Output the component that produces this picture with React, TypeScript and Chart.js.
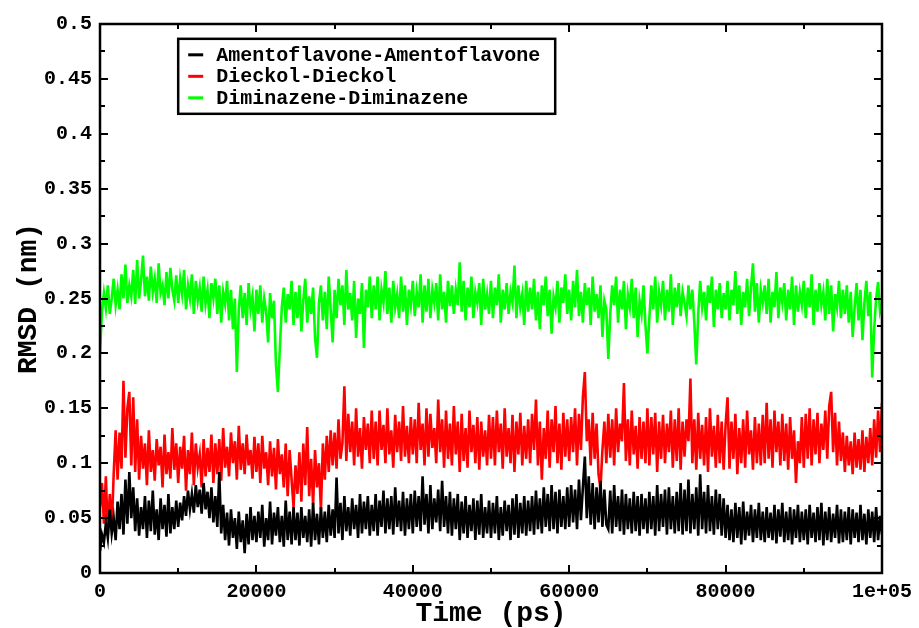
import React, { useEffect, useRef } from "react";
import { Chart, registerables } from "chart.js";

Chart.register(...registerables);

// Sampling interval of the series (ps)
const TIME_STEP = 250;

const SERIES_LABELS = [
  "Amentoflavone-Amentoflavone",
  "Dieckol-Dieckol",
  "Diminazene-Diminazene",
];
const SERIES_COLORS = ["#000000", "#ff0000", "#00ff00"];

const X_TICKS = [0, 20000, 40000, 60000, 80000, 100000];
const X_TICK_LABELS = ["0", "20000", "40000", "60000", "80000", "1e+05"];
const Y_TICK_LABELS = ["0", "0.05", "0.1", "0.15", "0.2", "0.25", "0.3", "0.35", "0.4", "0.45", "0.5"];

// RMSD (nm) values, one every 250 ps
const amentoflavone = [
  0.020,0.035,0.028,0.045,0.032,0.058,0.036,0.050,0.030,0.065,0.040,0.072,0.035,0.085,0.045,0.092,0.050,0.078,0.038,0.068,
  0.034,0.060,0.040,0.070,0.032,0.066,0.038,0.075,0.035,0.058,0.030,0.068,0.040,0.062,0.033,0.072,0.036,0.060,0.040,0.066,
  0.042,0.064,0.048,0.070,0.052,0.075,0.058,0.072,0.055,0.080,0.060,0.076,0.054,0.082,0.058,0.074,0.050,0.078,0.046,0.070,
  0.042,0.092,0.036,0.062,0.030,0.055,0.025,0.058,0.032,0.050,0.022,0.056,0.028,0.048,0.018,0.054,0.026,0.060,0.030,0.052,
  0.028,0.056,0.032,0.062,0.024,0.050,0.030,0.065,0.026,0.055,0.034,0.060,0.028,0.052,0.024,0.066,0.030,0.056,0.026,0.060,
  0.030,0.055,0.025,0.060,0.032,0.052,0.028,0.058,0.024,0.064,0.030,0.054,0.026,0.060,0.032,0.056,0.028,0.062,0.034,0.058,
  0.032,0.087,0.036,0.064,0.030,0.070,0.038,0.060,0.034,0.068,0.040,0.062,0.032,0.072,0.036,0.065,0.040,0.070,0.034,0.062,
  0.038,0.072,0.034,0.066,0.042,0.075,0.036,0.068,0.040,0.070,0.035,0.078,0.042,0.066,0.038,0.074,0.034,0.068,0.040,0.072,
  0.036,0.075,0.042,0.070,0.038,0.088,0.044,0.072,0.036,0.080,0.040,0.068,0.046,0.076,0.038,0.084,0.042,0.070,0.036,0.074,
  0.034,0.068,0.040,0.072,0.030,0.065,0.036,0.070,0.032,0.062,0.038,0.068,0.030,0.066,0.035,0.072,0.032,0.060,0.036,0.066,
  0.032,0.064,0.036,0.070,0.030,0.060,0.034,0.066,0.038,0.062,0.030,0.068,0.035,0.072,0.032,0.064,0.036,0.070,0.034,0.066,
  0.038,0.070,0.035,0.075,0.040,0.068,0.036,0.078,0.042,0.072,0.038,0.080,0.040,0.074,0.036,0.076,0.042,0.070,0.040,0.078,
  0.042,0.080,0.046,0.076,0.040,0.085,0.048,0.078,0.106,0.050,0.088,0.044,0.082,0.040,0.078,0.046,0.084,0.042,0.076,0.044,
  0.040,0.075,0.036,0.080,0.042,0.070,0.038,0.076,0.035,0.072,0.040,0.068,0.036,0.074,0.038,0.070,0.034,0.072,0.040,0.068,
  0.036,0.074,0.040,0.070,0.034,0.080,0.038,0.072,0.042,0.076,0.035,0.078,0.040,0.070,0.036,0.074,0.038,0.082,0.035,0.076,
  0.038,0.085,0.036,0.072,0.040,0.078,0.034,0.090,0.040,0.074,0.036,0.080,0.038,0.070,0.035,0.076,0.040,0.072,0.034,0.068,
  0.032,0.062,0.030,0.058,0.028,0.064,0.032,0.060,0.026,0.065,0.030,0.056,0.034,0.062,0.028,0.058,0.032,0.064,0.030,0.056,
  0.028,0.060,0.032,0.055,0.030,0.062,0.027,0.058,0.033,0.064,0.028,0.056,0.030,0.060,0.026,0.058,0.032,0.062,0.028,0.056,
  0.030,0.058,0.026,0.062,0.032,0.055,0.028,0.060,0.030,0.064,0.025,0.056,0.030,0.060,0.028,0.054,0.032,0.062,0.027,0.058,
  0.028,0.056,0.030,0.060,0.026,0.058,0.032,0.055,0.028,0.062,0.030,0.054,0.026,0.058,0.032,0.056,0.028,0.060,0.030,0.052,
  0.035,
];

const dieckol = [
  0.060,0.082,0.045,0.088,0.035,0.072,0.040,0.090,0.130,0.085,0.128,0.095,0.175,0.105,0.150,0.165,0.098,0.160,0.092,0.140,
  0.085,0.125,0.095,0.118,0.080,0.130,0.092,0.112,0.084,0.122,0.098,0.115,0.078,0.126,0.090,0.110,0.086,0.132,0.094,0.118,
  0.082,0.115,0.095,0.125,0.075,0.112,0.090,0.128,0.080,0.118,0.096,0.108,0.078,0.122,0.088,0.114,0.092,0.126,0.082,0.118,
  0.090,0.122,0.084,0.132,0.096,0.115,0.088,0.128,0.100,0.120,0.085,0.134,0.094,0.118,0.090,0.126,0.098,0.112,0.086,0.124,
  0.092,0.118,0.082,0.125,0.095,0.110,0.080,0.120,0.088,0.114,0.076,0.122,0.090,0.108,0.078,0.118,0.070,0.112,0.085,0.060,
  0.098,0.072,0.110,0.065,0.118,0.080,0.133,0.070,0.104,0.062,0.112,0.078,0.100,0.057,0.118,0.085,0.125,0.092,0.130,0.098,
  0.128,0.095,0.140,0.104,0.118,0.170,0.102,0.145,0.110,0.138,0.098,0.150,0.106,0.132,0.095,0.142,0.112,0.136,0.100,0.148,
  0.104,0.138,0.098,0.148,0.112,0.135,0.100,0.150,0.108,0.130,0.096,0.144,0.110,0.138,0.102,0.152,0.106,0.134,0.100,0.142,
  0.108,0.140,0.100,0.155,0.112,0.136,0.098,0.150,0.106,0.145,0.114,0.132,0.100,0.158,0.110,0.140,0.096,0.148,0.104,0.136,
  0.098,0.152,0.108,0.138,0.092,0.145,0.102,0.132,0.096,0.148,0.110,0.135,0.100,0.142,0.094,0.138,0.106,0.130,0.098,0.144,
  0.104,0.142,0.098,0.148,0.110,0.136,0.095,0.150,0.106,0.132,0.100,0.144,0.092,0.138,0.108,0.146,0.098,0.134,0.104,0.140,
  0.100,0.145,0.112,0.158,0.098,0.138,0.085,0.132,0.104,0.148,0.096,0.140,0.110,0.152,0.100,0.136,0.094,0.146,0.106,0.140,
  0.102,0.142,0.110,0.150,0.098,0.145,0.112,0.160,0.183,0.120,0.140,0.098,0.146,0.104,0.136,0.090,0.077,0.112,0.138,0.100,
  0.145,0.105,0.140,0.098,0.150,0.110,0.136,0.120,0.173,0.102,0.140,0.098,0.148,0.108,0.134,0.095,0.142,0.104,0.138,0.100,
  0.150,0.098,0.142,0.108,0.146,0.092,0.138,0.104,0.144,0.100,0.136,0.110,0.148,0.096,0.140,0.102,0.150,0.094,0.138,0.106,
  0.140,0.120,0.177,0.100,0.140,0.094,0.146,0.104,0.135,0.098,0.142,0.092,0.150,0.106,0.134,0.096,0.144,0.100,0.138,0.094,
  0.135,0.160,0.095,0.138,0.104,0.145,0.090,0.132,0.100,0.140,0.096,0.148,0.108,0.130,0.094,0.142,0.100,0.136,0.098,0.144,
  0.100,0.155,0.104,0.140,0.096,0.148,0.110,0.138,0.098,0.145,0.102,0.136,0.094,0.142,0.104,0.130,0.082,0.120,0.100,0.142,
  0.096,0.145,0.104,0.150,0.098,0.140,0.108,0.146,0.100,0.136,0.112,0.148,0.104,0.152,0.165,0.110,0.146,0.098,0.138,0.102,
  0.128,0.092,0.125,0.098,0.120,0.090,0.128,0.096,0.122,0.094,0.130,0.092,0.124,0.100,0.132,0.098,0.140,0.105,0.148,0.110,
  0.155,
];

const diminazene = [
  0.200,0.238,0.255,0.241,0.262,0.236,0.250,0.268,0.244,0.258,0.240,0.272,0.250,0.281,0.246,0.262,0.252,0.276,0.245,0.285,
  0.250,0.266,0.289,0.252,0.270,0.248,0.279,0.256,0.268,0.246,0.282,0.255,0.262,0.244,0.274,0.250,0.278,0.258,0.248,0.271,
  0.246,0.268,0.254,0.276,0.240,0.262,0.250,0.272,0.236,0.266,0.248,0.260,0.238,0.270,0.245,0.258,0.232,0.264,0.250,0.268,
  0.236,0.262,0.228,0.256,0.245,0.266,0.230,0.258,0.222,0.250,0.183,0.240,0.262,0.232,0.255,0.226,0.264,0.240,0.252,0.220,
  0.258,0.236,0.262,0.228,0.250,0.238,0.210,0.255,0.232,0.248,0.190,0.165,0.205,0.242,0.260,0.228,0.254,0.240,0.266,0.226,
  0.256,0.232,0.262,0.220,0.248,0.268,0.228,0.252,0.236,0.260,0.214,0.196,0.246,0.262,0.230,0.256,0.222,0.270,0.240,0.210,
  0.258,0.232,0.268,0.244,0.262,0.226,0.276,0.240,0.255,0.230,0.266,0.214,0.250,0.236,0.264,0.205,0.258,0.242,0.270,0.232,
  0.262,0.240,0.270,0.230,0.258,0.246,0.275,0.236,0.260,0.228,0.266,0.242,0.254,0.232,0.270,0.238,0.262,0.226,0.258,0.244,
  0.266,0.234,0.256,0.242,0.272,0.228,0.262,0.238,0.268,0.232,0.258,0.246,0.264,0.230,0.272,0.240,0.256,0.228,0.266,0.243,
  0.262,0.236,0.258,0.244,0.283,0.238,0.266,0.230,0.260,0.242,0.270,0.232,0.256,0.246,0.264,0.226,0.268,0.240,0.254,0.236,
  0.266,0.232,0.260,0.244,0.272,0.228,0.258,0.240,0.264,0.236,0.256,0.246,0.280,0.232,0.262,0.242,0.254,0.226,0.266,0.238,
  0.260,0.240,0.268,0.230,0.256,0.222,0.262,0.244,0.270,0.234,0.258,0.218,0.252,0.242,0.266,0.228,0.260,0.246,0.272,0.236,
  0.258,0.230,0.266,0.242,0.276,0.234,0.256,0.228,0.264,0.244,0.260,0.226,0.270,0.238,0.254,0.232,0.262,0.215,0.248,0.240,
  0.195,0.236,0.262,0.244,0.270,0.228,0.258,0.240,0.266,0.222,0.254,0.242,0.268,0.232,0.260,0.215,0.248,0.236,0.262,0.226,
  0.200,0.232,0.262,0.240,0.270,0.228,0.256,0.244,0.266,0.230,0.258,0.238,0.272,0.226,0.260,0.242,0.264,0.234,0.256,0.246,
  0.234,0.262,0.240,0.258,0.228,0.190,0.236,0.266,0.242,0.256,0.230,0.262,0.246,0.270,0.224,0.258,0.240,0.264,0.232,0.255,
  0.240,0.266,0.230,0.258,0.244,0.275,0.236,0.262,0.226,0.256,0.242,0.268,0.234,0.260,0.282,0.238,0.264,0.228,0.258,0.246,
  0.262,0.236,0.268,0.228,0.256,0.242,0.274,0.232,0.260,0.246,0.264,0.230,0.258,0.240,0.270,0.226,0.262,0.238,0.256,0.244,
  0.266,0.232,0.260,0.242,0.272,0.226,0.258,0.238,0.264,0.244,0.256,0.230,0.268,0.236,0.262,0.220,0.254,0.242,0.266,0.232,
  0.258,0.236,0.262,0.228,0.256,0.215,0.242,0.264,0.230,0.258,0.212,0.246,0.266,0.234,0.256,0.178,0.222,0.250,0.265,0.238,
  0.245,
];

const SERIES = [amentoflavone, dieckol, diminazene];

const MONO = "'Liberation Mono', 'DejaVu Sans Mono', monospace";

const framePlugin = {
  id: "graceFrame",
  afterDatasetsDraw(chart: any) {
    const { ctx, chartArea } = chart;
    const { left, right, top, bottom } = chartArea;
    const xs = chart.scales.x;
    const ys = chart.scales.y;
    ctx.save();
    ctx.strokeStyle = "#000";
    // ticks (inward, all four sides)
    ctx.lineWidth = 2;
    ctx.beginPath();
    for (let v = 0; v <= 100000; v += 10000) {
      const px = Math.round(xs.getPixelForValue(v));
      const len = v % 20000 === 0 ? 8 : 5;
      ctx.moveTo(px, bottom);
      ctx.lineTo(px, bottom - len);
      ctx.moveTo(px, top);
      ctx.lineTo(px, top + len);
    }
    for (let i = 0; i <= 20; i++) {
      const v = i * 0.025;
      const py = Math.round(ys.getPixelForValue(v));
      const len = i % 2 === 0 ? 8 : 5;
      ctx.moveTo(left, py);
      ctx.lineTo(left + len, py);
      ctx.moveTo(right, py);
      ctx.lineTo(right - len, py);
    }
    ctx.stroke();
    // frame
    ctx.lineWidth = 2.5;
    ctx.strokeRect(left, top, right - left, bottom - top);

    // legend box
    const bx = xs.getPixelForValue(10000);
    const by = ys.getPixelForValue(0.4865);
    const bw = 377;
    const bh = 75;
    ctx.fillStyle = "#fff";
    ctx.fillRect(bx, by, bw, bh);
    ctx.lineWidth = 2.5;
    ctx.strokeRect(bx, by, bw, bh);
    ctx.font = `bold 20px ${MONO}`;
    ctx.textBaseline = "middle";
    ctx.textAlign = "left";
    SERIES_LABELS.forEach((lab, i) => {
      const cy = by + 16 + i * 21.5;
      ctx.strokeStyle = SERIES_COLORS[i];
      ctx.lineWidth = 3;
      ctx.beginPath();
      ctx.moveTo(bx + 10, cy);
      ctx.lineTo(bx + 25, cy);
      ctx.stroke();
      ctx.fillStyle = "#000";
      ctx.fillText(lab, bx + 38, cy + 1);
    });
    ctx.restore();
  },
};

export default function App() {
  const canvasRef = useRef<HTMLCanvasElement | null>(null);

  useEffect(() => {
    document.body.style.margin = "0";
    const canvas = canvasRef.current;
    if (!canvas) return;

    const datasets = SERIES.map((vals, i) => ({
      label: SERIES_LABELS[i],
      data: vals.map((v, k) => ({ x: k * TIME_STEP, y: v })),
      borderColor: SERIES_COLORS[i],
      backgroundColor: SERIES_COLORS[i],
      borderWidth: 2.6,
      pointRadius: 0,
      tension: 0,
      fill: false,
    }));

    const chart = new Chart(canvas, {
      type: "line",
      data: { datasets },
      options: {
        animation: false,
        responsive: false,
        maintainAspectRatio: false,
        layout: { padding: { left: 0, top: 24, right: 37, bottom: 0 } },
        plugins: {
          legend: { display: false },
          tooltip: { enabled: false },
        },
        scales: {
          x: {
            type: "linear",
            min: 0,
            max: 100000,
            afterFit(scale: any) {
              scale.height = 55;
            },
            afterBuildTicks(scale: any) {
              scale.ticks = X_TICKS.map((v) => ({ value: v }));
            },
            grid: { display: false, drawTicks: false },
            border: { display: false },
            ticks: {
              padding: 7,
              maxRotation: 0,
              autoSkip: false,
              color: "#000",
              font: { family: MONO, size: 20, weight: "bold" },
              callback: (v: any) => {
                const idx = X_TICKS.indexOf(Number(v));
                return idx >= 0 ? X_TICK_LABELS[idx] : "";
              },
            },
            title: {
              display: true,
              text: "Time (ps)",
              color: "#000",
              padding: { top: 0, bottom: 0 },
              font: { family: MONO, size: 28, weight: "bold", lineHeight: 1.0 },
            },
          },
          y: {
            type: "linear",
            min: 0,
            max: 0.5,
            afterFit(scale: any) {
              scale.width = 100;
            },
            afterBuildTicks(scale: any) {
              scale.ticks = Y_TICK_LABELS.map((_, i) => ({ value: i * 0.05 }));
            },
            grid: { display: false, drawTicks: false },
            border: { display: false },
            ticks: {
              padding: 8,
              autoSkip: false,
              color: "#000",
              font: { family: MONO, size: 20, weight: "bold" },
              callback: (_v: any, i: number) => Y_TICK_LABELS[i],
            },
            title: {
              display: true,
              text: "RMSD (nm)",
              color: "#000",
              padding: { top: 12, bottom: 0 },
              font: { family: MONO, size: 28, weight: "bold" },
            },
          },
        },
      },
      plugins: [framePlugin],
    });
    return () => chart.destroy();
  }, []);

  return (
    <div style={{ width: 919, height: 628, background: "#fff" }}>
      <canvas ref={canvasRef} width={919} height={628} style={{ display: "block" }} />
    </div>
  );
}
